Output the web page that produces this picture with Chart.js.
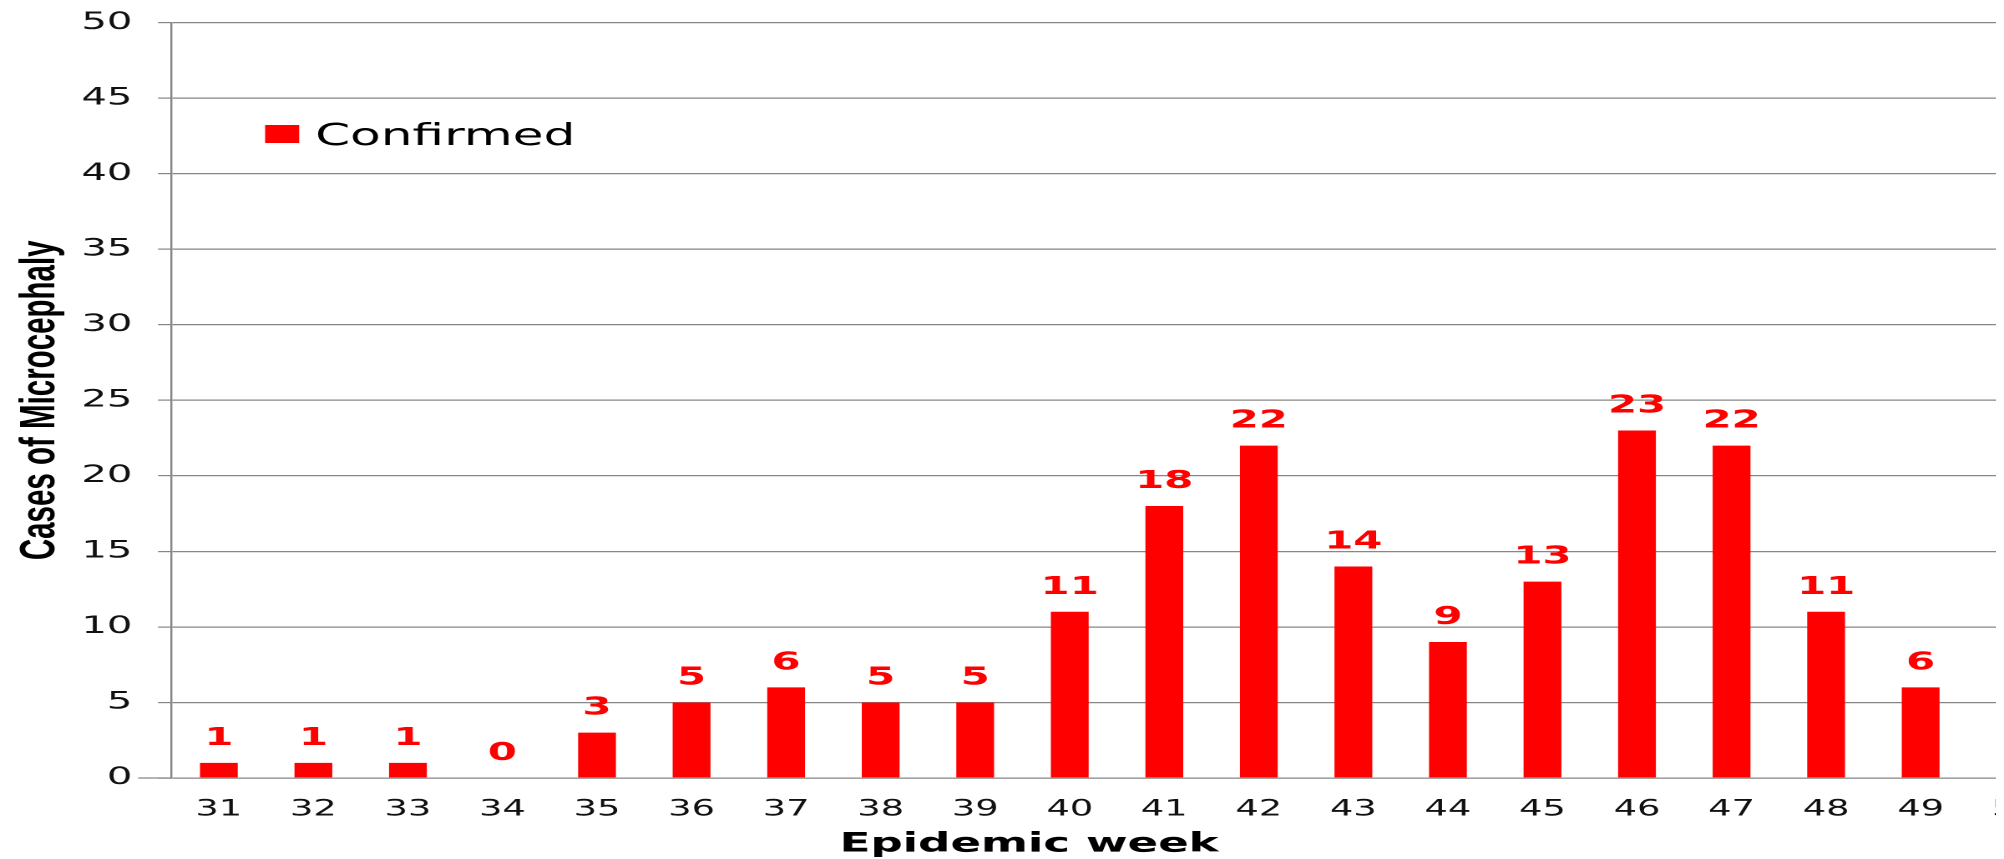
<!DOCTYPE html>
<html>
<head>
<meta charset="utf-8">
<title>Cases of Microcephaly by epidemic week</title>
<script src="https://cdn.jsdelivr.net/npm/chart.js@4.4.1/dist/chart.umd.min.js"></script>
<style>
  html, body { margin: 0; padding: 0; background: #ffffff; }
  #clip { width: 1996px; height: 859px; overflow: hidden; background: #ffffff; }
  /* the chart is laid out narrow and widened horizontally */
  #wrap { width: 1245px; height: 880px; transform: scaleX(1.67); transform-origin: 0 0; }
</style>
</head>
<body>
<div id="clip">
  <div id="wrap"><canvas id="chart" width="1245" height="880"></canvas></div>
</div>
<script>
// Epidemic weeks on the category axis
const weeks = ['31','32','33','34','35','36','37','38','39','40','41','42','43','44','45','46','47','48','49','50'];
// Confirmed microcephaly cases per week (week 50 not yet reported)
const confirmed = [1, 1, 1, 0, 3, 5, 6, 5, 5, 11, 18, 22, 14, 9, 13, 23, 22, 11, 6, null];
// Value axis range and step
const yMin = 0;
const yMax = 50;
const yStep = 5;
// Axis captions
const xTitle = 'Epidemic week';
const yTitle = 'Cases of Microcephaly';

const RED = '#ff0000';
const GRID = '#868686';

// Bold red value written above every bar
const valueLabels = {
  id: 'valueLabels',
  afterDatasetsDraw(chart) {
    const ctx = chart.ctx;
    const meta = chart.getDatasetMeta(0);
    const values = chart.data.datasets[0].data;
    ctx.save();
    ctx.font = 'bold 25px "DejaVu Sans"';
    ctx.fillStyle = RED;
    ctx.textAlign = 'center';
    ctx.textBaseline = 'alphabetic';
    meta.data.forEach((bar, i) => {
      const v = values[i];
      if (v === null || v === undefined) return;
      ctx.fillText(String(v), bar.x, bar.y - 18);
    });
    ctx.restore();
  }
};

// Zero line runs a little further left than the other gridlines;
// the series key sits inside the plot area and the week caption
// sits below the tick labels, left of the axis centre
const extras = {
  id: 'extras',
  beforeDatasetsDraw(chart) {
    const ctx = chart.ctx;
    const y0 = chart.scales.y.getPixelForValue(0);
    ctx.save();
    ctx.strokeStyle = GRID;
    ctx.lineWidth = 1.2;
    ctx.beginPath();
    ctx.moveTo(chart.chartArea.left - 20, y0);
    ctx.lineTo(chart.chartArea.left, y0);
    ctx.stroke();
    ctx.restore();
  },
  afterDraw(chart) {
    const ctx = chart.ctx;
    const ds = chart.data.datasets[0];
    const left = chart.chartArea.left;
    ctx.save();
    ctx.fillStyle = ds.backgroundColor;
    ctx.fillRect(left + 56, 125, 20.4, 18);
    ctx.font = '30px "DejaVu Sans"';
    ctx.fillStyle = '#000000';
    ctx.textAlign = 'left';
    ctx.textBaseline = 'alphabetic';
    ctx.fillText(ds.label, left + 86, 145);

    ctx.font = 'bold 27px "DejaVu Sans"';
    ctx.textAlign = 'center';
    ctx.fillText(xTitle, left + 513.5, 851.5);
    ctx.restore();
  }
};

Chart.defaults.font.family = '"DejaVu Sans"';
Chart.defaults.color = '#111111';

new Chart(document.getElementById('chart'), {
  type: 'bar',
  data: {
    labels: weeks,
    datasets: [{
      label: 'Confirmed',
      data: confirmed,
      backgroundColor: RED,
      borderWidth: 0,
      barPercentage: 0.4,
      categoryPercentage: 1.0
    }]
  },
  options: {
    responsive: false,
    animation: false,
    devicePixelRatio: 2,
    layout: { padding: { left: 0, right: 10, top: 20, bottom: 38 } },
    plugins: {
      legend: { display: false },
      tooltip: { enabled: false }
    },
    scales: {
      x: {
        offset: true,
        grid: { display: false, drawTicks: false },
        border: { display: false },
        ticks: {
          padding: 18.8,
          font: { size: 22 },
          color: '#111111',
          maxRotation: 0,
          autoSkip: false
        },
        title: { display: false }
      },
      y: {
        min: yMin,
        max: yMax,
        grid: {
          color: GRID,
          lineWidth: 1.2,
          drawTicks: true,
          tickLength: 8.1
        },
        border: { display: true, color: GRID, width: 1.2 },
        ticks: {
          stepSize: yStep,
          padding: 15.4,
          font: { size: 24, lineHeight: 0.6 },
          color: '#111111'
        },
        title: {
          display: true,
          text: yTitle,
          font: { family: '"Liberation Sans"', size: 29.5, weight: 'bold' },
          color: '#000000',
          padding: { top: 6.7, bottom: -8.8 }
        }
      }
    }
  },
  plugins: [valueLabels, extras]
});
</script>
</body>
</html>
